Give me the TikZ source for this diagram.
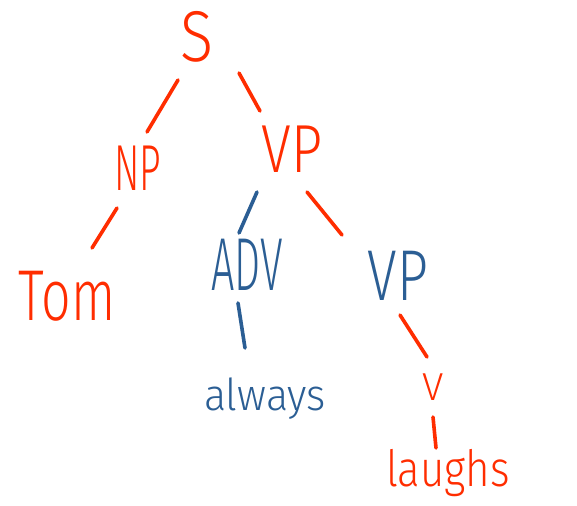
\documentclass[tikz,border=0pt]{standalone}
\usepackage{fontspec}
\setmainfont{Fira Sans Light}
\usetikzlibrary{calc}
\definecolor{hred}{HTML}{FF2D00}
\definecolor{hblue}{HTML}{2B5E94}
\tikzset{
  lab/.style={anchor=base, inner sep=0pt, outer sep=0pt},
  edge/.style={line width=3.6pt, line cap=round},
}
\newcommand{\fs}[1]{\fontsize{#1}{#1}\selectfont}
\begin{document}
\begin{tikzpicture}[x=1pt,y=-1pt]
\useasboundingbox[fill=white] (0,0) rectangle (577,505);
\node[lab, text=hred, xscale=0.85] (s) at (197,62) {\fs{72}S};
\node[lab, text=hred, xscale=0.58] (np) at (138,190) {\fs{65}NP};
\node[lab, text=hred, xscale=0.8] (vp) at (292,172) {\fs{68}VP};
\node[lab, text=hred, xscale=0.72] (tom) at (67,320) {\fs{72}Tom};
\node[lab, text=hblue, xscale=0.55] (adv) at (247,290) {\fs{75}ADV};
\node[lab, text=hblue, xscale=0.75] (vp2) at (398,300) {\fs{72}VP};
\node[lab, text=hblue, xscale=0.94] (always) at (265,410) {\fs{44}always};
\node[lab, text=hred] (v) at (433,400) {\fs{39}V};
\node[lab, text=hred, xscale=0.84] (laughs) at (448,486) {\fs{50}laughs};
\draw[edge, hred] ($(s.base)+(-19,18)$) -- ($(np.base)+(9,-58)$);
\draw[edge, hred] ($(s.base)+(42,11)$) -- ($(vp.base)+(-32,-61)$);
\draw[edge, hred] ($(np.base)+(-21,18)$) -- ($(tom.base)+(25,-72)$);
\draw[edge, hblue] ($(vp.base)+(-35,20)$) -- ($(adv.base)+(-8,-57)$);
\draw[edge, hred] ($(vp.base)+(15,20)$) -- ($(vp2.base)+(-56,-65)$);
\draw[edge, hblue] ($(adv.base)+(-9,13)$) -- ($(always.base)+(-20,-62)$);
\draw[edge, hred] ($(vp2.base)+(2,15)$) -- ($(v.base)+(-6,-43)$);
\draw[edge, hred] ($(v.base)+(0,17)$) -- ($(laughs.base)+(-12,-38)$);
\end{tikzpicture}
\end{document}
